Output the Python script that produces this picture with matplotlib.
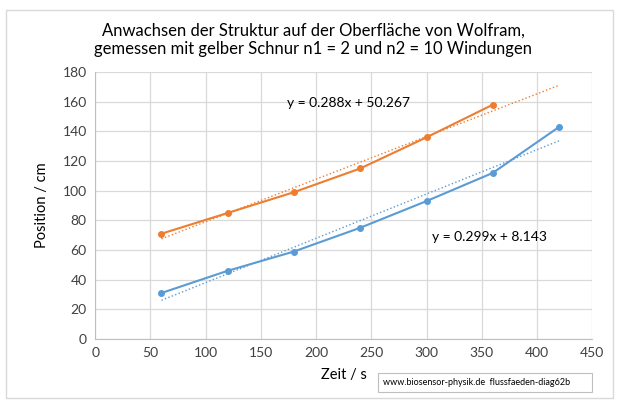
import numpy as np
import matplotlib.pyplot as plt
from matplotlib.patches import Rectangle

plt.rcParams['font.family'] = ['Lato', 'DejaVu Sans']

# measured values
t_orange = [60, 120, 180, 240, 300, 360]
pos_orange = [71, 85, 99, 115, 136, 158]
t_blue = [60, 120, 180, 240, 300, 360, 420]
pos_blue = [31, 46, 59, 75, 93, 112, 143]

c_orange = "#ED7D31"
c_blue = "#5B9BD5"

fig = plt.figure(figsize=(6.26, 4.05), dpi=100)
ax = fig.add_axes([0.152, 0.163, 0.794, 0.659])

# linear trend lines, drawn from 60 to 420 s
xt = np.array([60, 420])
k_o, d_o = np.polyfit(t_orange, pos_orange, 1)
k_b, d_b = np.polyfit(t_blue, pos_blue, 1)
ax.plot(xt, k_o * xt + d_o, ":", color=c_orange, lw=1.0)
ax.plot(xt, k_b * xt + d_b, ":", color=c_blue, lw=1.0)

ax.plot(t_orange, pos_orange, "-o", color=c_orange, lw=1.5, ms=4)
ax.plot(t_blue, pos_blue, "-o", color=c_blue, lw=1.5, ms=4)

ax.text(174, 159, "y = %.3fx + %.3f" % (k_o, d_o), fontsize=10, va="center")
ax.text(305, 69, "y = %.3fx + %.3f" % (k_b, d_b), fontsize=10, va="center")

ax.set_xlim(0, 450)
ax.set_ylim(0, 180)
ax.set_xticks(range(0, 451, 50))
ax.set_yticks(range(0, 181, 20))
ax.grid(True, color="#D9D9D9", lw=0.9)
ax.set_axisbelow(True)
for s in ["top", "right"]:
    ax.spines[s].set_visible(False)
for s in ["left", "bottom"]:
    ax.spines[s].set_color("#BFBFBF")
ax.tick_params(length=0, labelsize=10, colors="#404040", pad=6)

ax.set_xlabel("Zeit / s", fontsize=10.5, labelpad=6)
ax.set_ylabel("Position / cm", fontsize=10.5, labelpad=10)

fig.text(0.5, 0.902, "Anwachsen der Struktur auf der Oberfläche von Wolfram,\n"
         "gemessen mit gelber Schnur n1 = 2 und n2 = 10 Windungen",
         ha="center", va="center", fontsize=12, linespacing=1.2)

# outer chart border and watermark box
fig.patches.append(Rectangle((6 / 626, 7 / 405), 607 / 626, 388 / 405,
                             transform=fig.transFigure, fill=False,
                             edgecolor="#D9D9D9", lw=1))
fig.patches.append(Rectangle((378 / 626, 13 / 405), 214 / 626, 19 / 405,
                             transform=fig.transFigure, facecolor="white",
                             edgecolor="#BFBFBF", lw=0.8))
fig.text(383 / 626, 22.5 / 405, "www.biosensor-physik.de  flussfaeden-diag62b",
         fontsize=6.5, va="center")

fig.savefig("out.png", dpi=100)
